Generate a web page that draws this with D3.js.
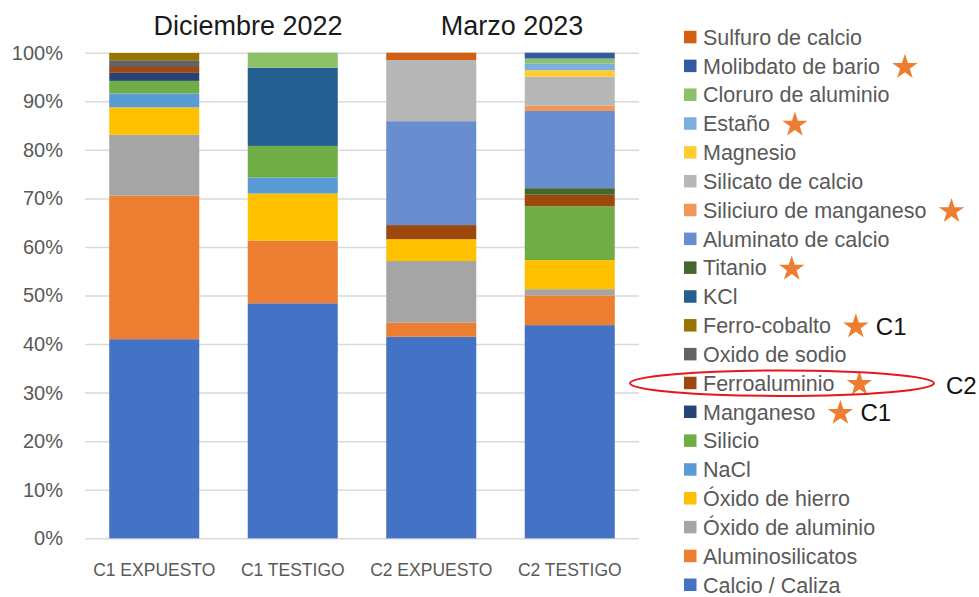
<!DOCTYPE html>
<html>
<head>
<meta charset="utf-8">
<script src="https://cdn.jsdelivr.net/npm/d3@7"></script>
<style>
  html, body { margin: 0; padding: 0; background: #fff; }
  svg { display: block; font-family: "Liberation Sans", Arial, sans-serif; }
</style>
</head>
<body>
<svg id="chart" width="979" height="597"></svg>
<script>
// Muestras
const categories = ["C1 EXPUESTO", "C1 TESTIGO", "C2 EXPUESTO", "C2 TESTIGO"];

// Compuestos, de abajo hacia arriba en la pila
const compounds = [
  "Calcio / Caliza", "Aluminosilicatos", "Óxido de aluminio", "Óxido de hierro",
  "NaCl", "Silicio", "Manganeso", "Ferroaluminio", "Oxido de sodio",
  "Ferro-cobalto", "KCl", "Titanio", "Aluminato de calcio",
  "Siliciuro de manganeso", "Silicato de calcio", "Magnesio", "Estaño",
  "Cloruro de aluminio", "Molibdato de bario", "Sulfuro de calcio"
];

const colors = [
  "#4472C4", "#ED7D31", "#A5A5A5", "#FFC000",
  "#5B9BD5", "#70AD47", "#264478", "#9E480E", "#636363",
  "#997300", "#255E91", "#43682B", "#698ED0",
  "#F1975A", "#B7B7B7", "#FFCD33", "#7CAFDD",
  "#8CC168", "#335AA1", "#D26012"
];

// Porcentaje de cada compuesto por muestra (mismo orden que categories)
const calcioCaliza        = [41.0, 48.4, 41.5, 43.9];
const aluminosilicatos    = [29.55, 12.9, 2.9, 6.1];
const oxidoAluminio       = [12.55, 0, 12.7, 1.3];
const oxidoHierro         = [5.65, 9.7, 4.5, 6.0];
const naCl                = [2.85, 3.3, 0, 0];
const silicio             = [2.6, 6.5, 0, 11.1];
const manganeso           = [1.65, 0, 0, 0];
const ferroaluminio       = [1.2, 0, 2.9, 2.35];
const oxidoSodio          = [1.4, 0, 0, 0];
const ferroCobalto        = [1.5, 0, 0, 0];
const kCl                 = [0, 16.1, 0, 0];
const titanio             = [0, 0, 0, 1.35];
const aluminatoCalcio     = [0, 0, 21.4, 15.9];
const siliciuroManganeso  = [0, 0, 0, 1.1];
const silicatoCalcio      = [0, 0, 12.6, 5.95];
const magnesio            = [0, 0, 0, 1.35];
const estano              = [0, 0, 0, 1.4];
const cloruroAluminio     = [0, 3.1, 0, 1.0];
const molibdatoBario      = [0, 0, 0, 1.2];
const sulfuroCalcio       = [0, 0, 1.5, 0];

const seriesValues = [
  calcioCaliza, aluminosilicatos, oxidoAluminio, oxidoHierro, naCl, silicio,
  manganeso, ferroaluminio, oxidoSodio, ferroCobalto, kCl, titanio,
  aluminatoCalcio, siliciuroManganeso, silicatoCalcio, magnesio, estano,
  cloruroAluminio, molibdatoBario, sulfuroCalcio
];

const yTicks = [0, 10, 20, 30, 40, 50, 60, 70, 80, 90, 100];

// Títulos de campaña
const periodTitles = [
  { text: "Diciembre 2022", x: 248 },
  { text: "Marzo 2023", x: 512 }
];

// Marcas añadidas sobre la leyenda
const starred = ["Molibdato de bario", "Estaño", "Siliciuro de manganeso", "Titanio",
                 "Ferro-cobalto", "Ferroaluminio", "Manganeso"];
const starNotes = { "Ferro-cobalto": "C1", "Manganeso": "C1" };
const circled = "Ferroaluminio";
const circledNote = "C2";

// ---- construcción ----
const svg = d3.select("#chart");
const margin = { left: 85, right: 639, top: 52.7, bottom: 538.3 };

const x = d3.scaleBand().domain(categories).range([margin.left, margin.right])
  .paddingInner(0.35).paddingOuter(0.175);
const y = d3.scaleLinear().domain([0, 100]).range([margin.bottom, margin.top]);

const table = categories.map((c, i) => {
  const row = { cat: c };
  compounds.forEach((k, j) => row[k] = seriesValues[j][i]);
  return row;
});
const stacked = d3.stack().keys(compounds)(table);
const color = d3.scaleOrdinal().domain(compounds).range(colors);

// Líneas de cuadrícula y etiquetas del eje Y
const yAxis = d3.axisLeft(y).tickValues(yTicks).tickSize(-(margin.right - margin.left))
  .tickFormat(d => d + "%").tickPadding(22);
const gy = svg.append("g").attr("transform", `translate(${margin.left},0)`).call(yAxis);
gy.select(".domain").remove();
gy.selectAll(".tick line").attr("stroke", "#D9D9D9").attr("stroke-width", 1.5);
gy.selectAll(".tick text").attr("fill", "#595959").style("font-size", "20px")
  .style("font-family", "'Liberation Sans', Arial, sans-serif");

// Barras apiladas
svg.append("g").selectAll("g").data(stacked).join("g")
  .attr("fill", d => color(d.key))
  .selectAll("rect").data(d => d.filter(p => p[1] - p[0] > 0)).join("rect")
  .attr("x", d => x(d.data.cat))
  .attr("width", x.bandwidth())
  .attr("y", d => y(d[1]))
  .attr("height", d => y(d[0]) - y(d[1]));

// Eje X
const xAxis = d3.axisBottom(x).tickSize(0).tickPadding(25);
const gx = svg.append("g").attr("transform", `translate(0,${margin.bottom})`).call(xAxis);
gx.select(".domain").remove();
gx.selectAll(".tick text").attr("fill", "#595959").style("font-size", "17.5px")
  .style("font-family", "'Liberation Sans', Arial, sans-serif");

// Títulos
svg.append("g").selectAll("text").data(periodTitles).join("text")
  .attr("x", d => d.x).attr("y", 35).attr("text-anchor", "middle")
  .attr("fill", "#1a1a1a").style("font-size", "27px").text(d => d.text);

// Leyenda (orden inverso de la pila)
const legendItems = compounds.slice().reverse();
const legendY = d3.scalePoint().domain(legendItems).range([37.3, 585]);
const legend = svg.append("g");
const rows = legend.selectAll("g").data(legendItems).join("g")
  .attr("transform", d => `translate(684,${legendY(d)})`);
rows.append("rect").attr("x", 0).attr("y", -6.5).attr("width", 12.5).attr("height", 12.5)
  .attr("fill", d => color(d));
const labels = rows.append("text").attr("x", 19).attr("y", 7.5)
  .attr("fill", "#595959").style("font-size", "21.5px").text(d => d);

// Estrellas y notas
const star = d3.symbol().type(d3.symbolStar).size(200);
labels.each(function (d) {
  const w = this.getComputedTextLength();
  const g = d3.select(this.parentNode);
  if (starred.includes(d)) {
    const sx = 19 + w + 25;
    g.append("path").attr("d", star()).attr("transform", `translate(${sx},1)`)
      .attr("fill", "#ED7D31");
    if (starNotes[d]) {
      g.append("text").attr("x", sx + 20).attr("y", 9).attr("fill", "#111")
        .style("font-size", "24px").text(starNotes[d]);
    }
  }
});

// Elipse roja alrededor de Ferroaluminio
const cy = legendY(circled);
svg.append("ellipse").attr("cx", 782).attr("cy", cy).attr("rx", 152).attr("ry", 12.7)
  .attr("fill", "none").attr("stroke", "#E8161B").attr("stroke-width", 2);
svg.append("text").attr("x", 946).attr("y", cy + 11).attr("fill", "#111")
  .style("font-size", "24px").text(circledNote);
</script>
</body>
</html>
